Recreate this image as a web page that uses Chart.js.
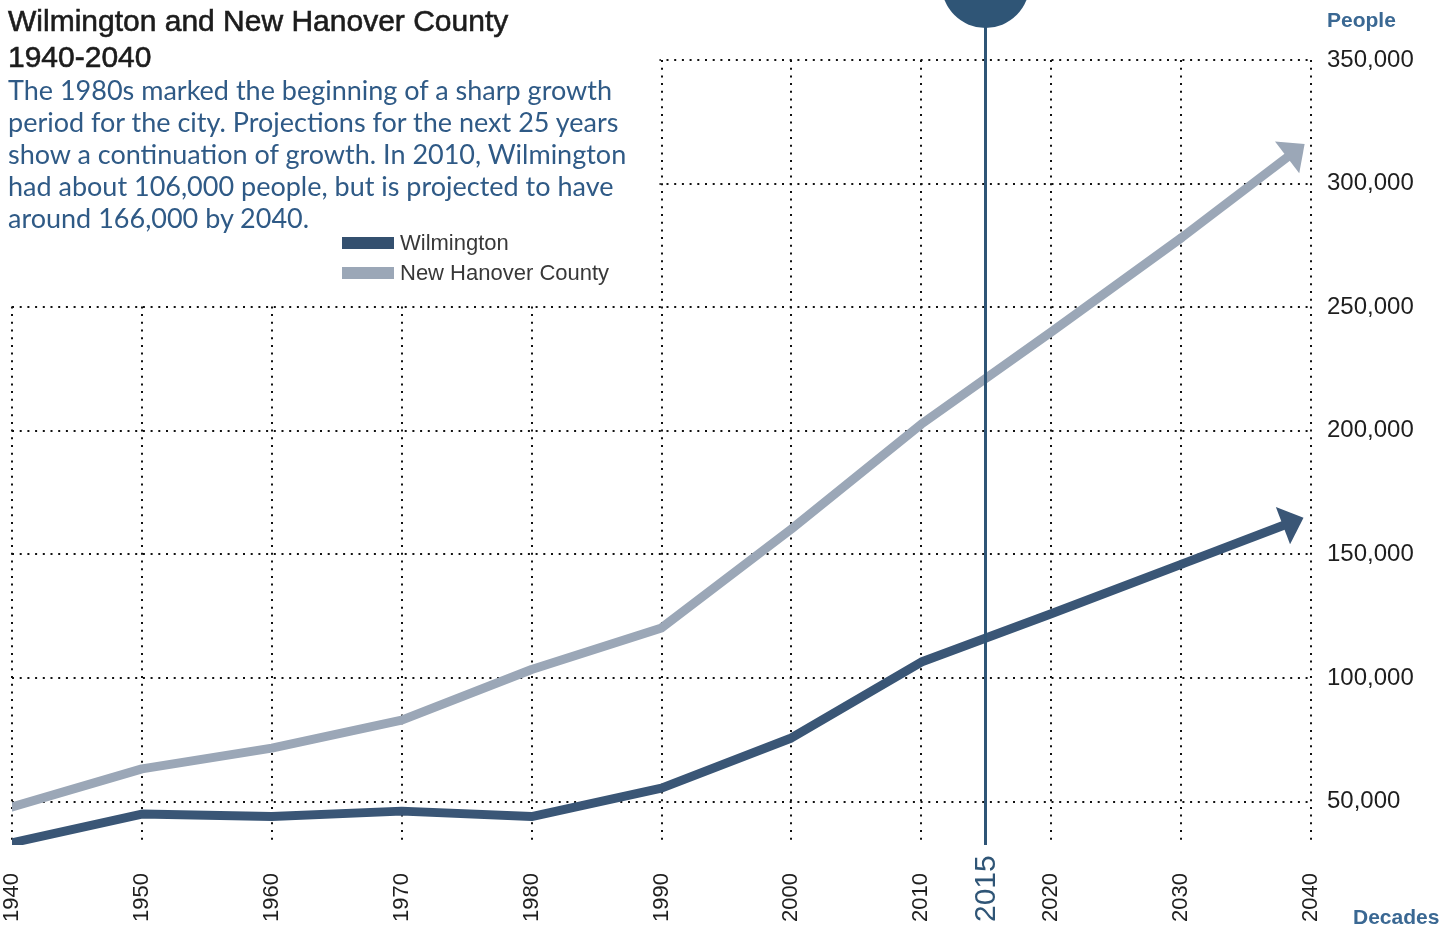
<!DOCTYPE html>
<html>
<head>
<meta charset="utf-8">
<title>Wilmington and New Hanover County 1940-2040</title>
<script src="https://cdn.jsdelivr.net/npm/chart.js@4.4.1/dist/chart.umd.min.js"></script>
<style>
  html, body { margin: 0; padding: 0; background: #fff; }
  #wrap { position: relative; width: 1454px; height: 930px; overflow: hidden; }
  #chart { position: absolute; left: 0; top: 0; }
  .title {
    position: absolute; left: 8px; top: 3px;
    font: 30px "Liberation Sans", Arial, sans-serif; line-height: 36px;
    color: #1c1c1c; -webkit-text-stroke: 0.6px #1c1c1c;
  }
  .blurb {
    position: absolute; left: 8px; top: 74px; width: 680px;
    font: 27px Lato, "Open Sans", sans-serif; line-height: 32px;
    color: #2f5a86;
  }
  .legend { position: absolute; left: 342px; top: 230px; font: 22px "Liberation Sans", Arial, sans-serif; color: #383838; }
  .legend div { height: 30px; line-height: 26px; white-space: nowrap; }
  .legend span { display: inline-block; width: 52px; height: 12px; margin-right: 6px; vertical-align: 1px; }
  .unit { position: absolute; font: bold 21px "Liberation Sans", Arial, sans-serif; color: #3a6893; }
</style>
</head>
<body>
<div id="wrap">
  <canvas id="chart" width="1454" height="930"></canvas>
  <div class="title">Wilmington and New Hanover County<br>1940-2040</div>
  <div class="blurb">The 1980s marked the beginning of a sharp growth<br>period for the city. Projections for the next 25 years<br>show a continuation of growth. In 2010, Wilmington<br>had about 106,000 people, but is projected to have<br>around 166,000 by 2040.</div>
  <div class="legend">
    <div><span style="background:#34506f"></span>Wilmington</div>
    <div><span style="background:#9ba7b7"></span>New Hanover County</div>
  </div>
  <div class="unit" style="left:1327px; top:8px;">People</div>
  <div class="unit" style="left:1353px; top:905px;">Decades</div>
</div>
<script>
// population by decade, census through 2010 and projections after
const years = [1940, 1950, 1960, 1970, 1980, 1990, 2000, 2010, 2020, 2030, 2040];
const wilmington = [33400, 45000, 44000, 46200, 44000, 55500, 75800, 106500, 126000, 146000, 166000];
const newHanover = [47900, 63300, 71700, 83000, 103500, 120300, 160300, 202700, 240000, 278000, 318000];
const peopleTicks = [50000, 100000, 150000, 200000, 250000, 300000, 350000];
const markerYear = 2015;

const darkBlue = '#3a5676';
const lightGray = '#9ba7b7';
const markerBlue = '#2f5576';
const tickFont = '"Liberation Sans", Arial, sans-serif';

const toPoints = vals => years.map((yr, i) => ({ x: yr, y: vals[i] }));
const lastIdx = years.length - 1;

// last segment is drawn by the arrow plugin
const hideLast = { borderColor: ctx => ctx.p1DataIndex === lastIdx ? 'rgba(0,0,0,0)' : undefined };

// blank out the grid behind the text block in the upper left
const clearCorner = {
    id: 'clearCorner',
    beforeDatasetsDraw(chart) {
        const { ctx, scales: { x, y } } = chart;
        ctx.save();
        ctx.fillStyle = '#fff';
        ctx.fillRect(0, 0, x.getPixelForValue(1990) - 2, y.getPixelForValue(250000) - 2);
        ctx.restore();
    }
};

const arrowHeads = {
    id: 'arrowHeads',
    afterDatasetsDraw(chart) {
        const { ctx } = chart;
        chart.data.datasets.forEach((ds, i) => {
            const pts = chart.getDatasetMeta(i).data;
            const a = pts[pts.length - 2], b = pts[pts.length - 1];
            const dx = b.x - a.x, dy = b.y - a.y;
            const len = Math.hypot(dx, dy);
            const ux = dx / len, uy = dy / len;
            const tipX = b.x - ux * 8, tipY = b.y - uy * 8;
            const baseX = tipX - ux * 22, baseY = tipY - uy * 22;
            ctx.save();
            ctx.strokeStyle = ds.borderColor;
            ctx.fillStyle = ds.borderColor;
            ctx.lineWidth = ds.borderWidth;
            ctx.lineCap = 'butt';
            ctx.beginPath();
            ctx.moveTo(a.x, a.y);
            ctx.lineTo(baseX + ux * 3, baseY + uy * 3);
            ctx.stroke();
            ctx.beginPath();
            ctx.moveTo(tipX, tipY);
            ctx.lineTo(baseX - uy * 20, baseY + ux * 20);
            ctx.lineTo(baseX + uy * 20, baseY - ux * 20);
            ctx.closePath();
            ctx.fill();
            ctx.restore();
        });
    }
};

// "you are here" pin for 2015
const yearMarker = {
    id: 'yearMarker',
    afterDatasetsDraw(chart) {
        const { ctx, chartArea, scales: { x } } = chart;
        const px = Math.round(x.getPixelForValue(markerYear)) - 0.5;
        ctx.save();
        ctx.fillStyle = markerBlue;
        ctx.strokeStyle = markerBlue;
        ctx.lineWidth = 3;
        ctx.beginPath();
        ctx.moveTo(px, 20);
        ctx.lineTo(px, chartArea.bottom);
        ctx.stroke();
        ctx.beginPath();
        ctx.arc(px, -16, 44, 0, Math.PI * 2);
        ctx.fill();
        ctx.translate(px, 922);
        ctx.rotate(-Math.PI / 2);
        ctx.font = '30px ' + tickFont;
        ctx.textAlign = 'left';
        ctx.textBaseline = 'middle';
        ctx.fillText(String(markerYear), 0, 1);
        ctx.restore();
    }
};

const dottedGrid = { color: '#111', lineWidth: 2, drawTicks: false };
const dottedBorder = { display: false, dash: [2, 5.7] };

new Chart(document.getElementById('chart'), {
    type: 'line',
    data: {
        datasets: [{
            label: 'Wilmington',
            data: toPoints(wilmington),
            borderColor: darkBlue,
            borderWidth: 9,
            segment: hideLast
        }, {
            label: 'New Hanover County',
            data: toPoints(newHanover),
            borderColor: lightGray,
            borderWidth: 9,
            segment: hideLast
        }]
    },
    options: {
        responsive: false,
        animation: false,
        layout: { padding: { left: 12, top: 60, right: 0, bottom: 0 } },
        elements: {
            point: { radius: 0 },
            line: { tension: 0, borderCapStyle: 'round', borderJoinStyle: 'round' }
        },
        plugins: { legend: { display: false }, tooltip: { enabled: false } },
        scales: {
            x: {
                type: 'linear',
                position: 'bottom',
                min: 1940,
                max: 2040,
                afterBuildTicks: s => { s.ticks = years.map(v => ({ value: v })); },
                afterFit: s => { s.height = 85; s.paddingLeft = 0; s.paddingRight = 0; },
                grid: dottedGrid,
                border: dottedBorder,
                ticks: {
                    callback: v => String(v),
                    autoSkip: false,
                    minRotation: 90,
                    maxRotation: 90,
                    padding: 28,
                    color: '#1e1e1e',
                    font: { family: tickFont, size: 22 }
                }
            },
            y: {
                position: 'right',
                min: 32500,
                max: 350000,
                afterBuildTicks: s => { s.ticks = peopleTicks.map(v => ({ value: v })); },
                afterFit: s => { s.width = 143; },
                grid: dottedGrid,
                border: dottedBorder,
                ticks: {
                    callback: v => v.toLocaleString('en-US'),
                    padding: 16,
                    color: '#1e1e1e',
                    font: { family: tickFont, size: 24 }
                }
            }
        }
    },
    plugins: [clearCorner, arrowHeads, yearMarker]
});
</script>
</body>
</html>
